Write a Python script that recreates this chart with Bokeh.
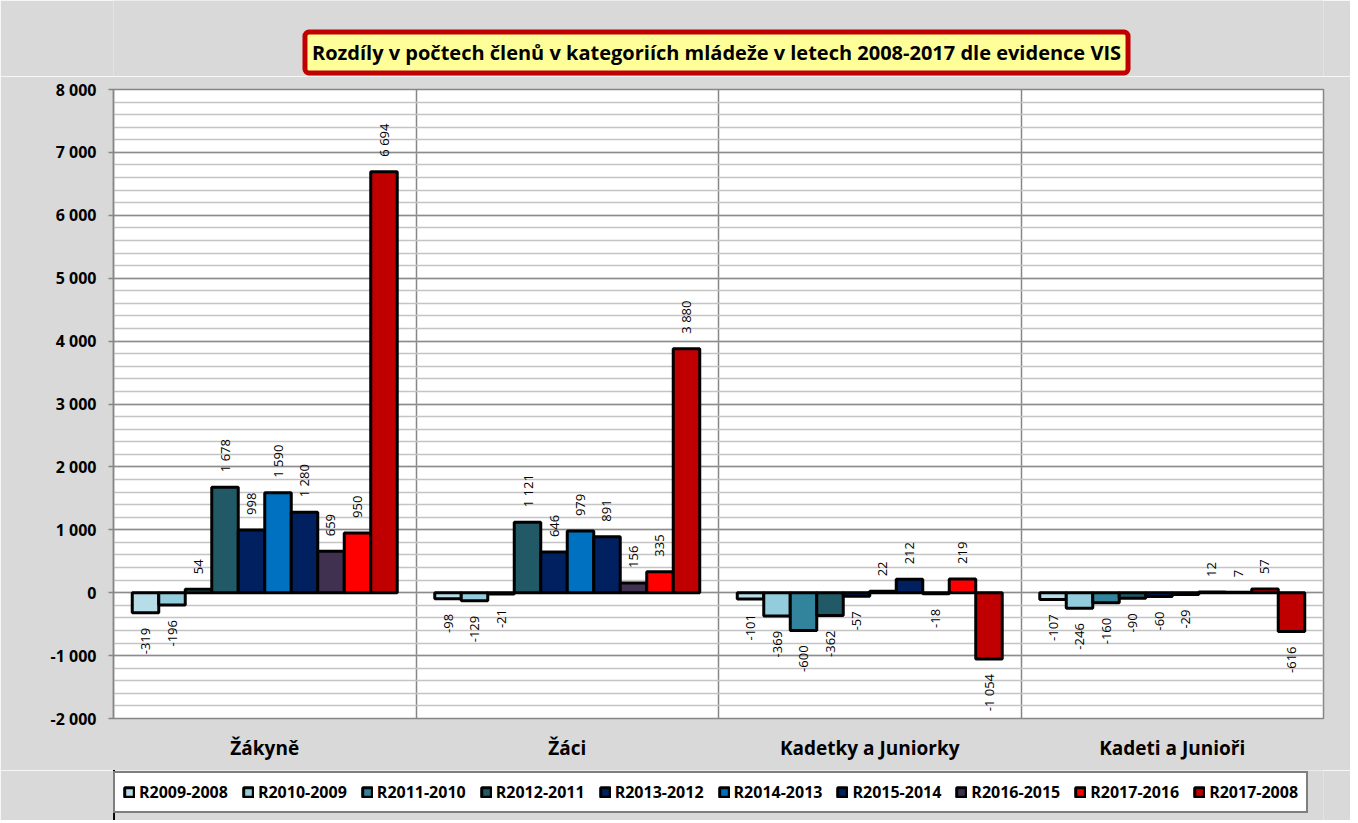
import math
from bokeh.plotting import figure
from bokeh.layouts import column
from bokeh.models import (ColumnDataSource, FixedTicker, Legend, LegendItem, Label,
                          CustomJSTickFormatter)
from bokeh.core.properties import value
from bokeh.embed import file_html
from bokeh.resources import INLINE

# ---------------- data ----------------
title_text = "Rozdíly v počtech členů v kategoriích mládeže v letech 2008-2017 dle evidence VIS"
categories = ["Žákyně", "Žáci", "Kadetky a Juniorky", "Kadeti a Junioři"]
series_names = ["R2009-2008", "R2010-2009", "R2011-2010", "R2012-2011", "R2013-2012",
                "R2014-2013", "R2015-2014", "R2016-2015", "R2017-2016", "R2017-2008"]
r2009_2008 = [-319, -98, -101, -107]
r2010_2009 = [-196, -129, -369, -246]
r2011_2010 = [54, -21, -600, -160]
r2012_2011 = [1678, 1121, -362, -90]
r2013_2012 = [998, 646, -57, -60]
r2014_2013 = [1590, 979, 22, -29]
r2015_2014 = [1280, 891, 212, 12]
r2016_2015 = [659, 156, -18, 7]
r2017_2016 = [950, 335, 219, 57]
r2017_2008 = [6694, 3880, -1054, -616]
series_values = [r2009_2008, r2010_2009, r2011_2010, r2012_2011, r2013_2012,
                 r2014_2013, r2015_2014, r2016_2015, r2017_2016, r2017_2008]
colors = ["#B7DEE8", "#93CDDD", "#31849B", "#215967", "#002060",
          "#0070C0", "#002060", "#403151", "#FF0000", "#C00000"]
y_ticks = list(range(-2000, 8001, 1000))
y_minor = list(range(-2000, 8001, 200))

# ---------------- common ----------------
BW = 0.0876
FONT = "Open Sans"
BG = "#d9d9d9"
W = 1350
LEFT, RIGHT = 113, 27


def blank_fig(height):
    # a strip whose ranges show no data: it only hosts a title box or the legend
    f = figure(width=W, height=height, x_range=(100, 101), y_range=(100, 101),
               output_backend="svg", toolbar_location=None,
               x_axis_type=None, y_axis_type=None,
               min_border_left=LEFT, min_border_right=RIGHT,
               min_border_top=0, min_border_bottom=0,
               border_fill_color=BG, background_fill_color=BG)
    f.outline_line_color = None
    return f


# ---------------- title strip ----------------
ft = blank_fig(76)
ft.add_layout(Label(x=603, y=24, x_units="screen", y_units="screen", text=title_text,
                    text_align="center", text_baseline="middle",
                    text_font=FONT, text_font_style="bold", text_font_size="20px",
                    text_color="black", background_fill_color="#FFFF99",
                    border_line_color="#C00000", border_line_width=5, border_radius=4,
                    padding=7))

# ---------------- main chart ----------------
p = figure(width=W, height=694, x_range=(0, 4), y_range=(-2000, 8000),
           output_backend="svg", toolbar_location=None,
           min_border_left=LEFT, min_border_right=RIGHT, min_border_top=13, min_border_bottom=52,
           border_fill_color=BG, background_fill_color="white")
p.outline_line_color = "#868686"
p.outline_line_width = 1.5

p.yaxis.ticker = FixedTicker(ticks=y_ticks, minor_ticks=y_minor)
p.yaxis.formatter = CustomJSTickFormatter(
    code="return tick.toFixed(0).replace(/\\B(?=(\\d{3})+(?!\\d))/g, ' ');")
p.yaxis.major_label_text_font = FONT
p.yaxis.major_label_text_font_style = "bold"
p.yaxis.major_label_text_font_size = "16px"
p.yaxis.major_label_text_color = "black"
p.yaxis.axis_line_color = "#868686"
p.yaxis.axis_line_width = 1.5
p.yaxis.major_tick_line_color = "#868686"
p.yaxis.major_tick_line_width = 1.5
p.yaxis.major_tick_out = 5
p.yaxis.major_tick_in = 0
p.yaxis.minor_tick_line_color = None
p.yaxis.major_label_standoff = 12

p.ygrid.ticker = FixedTicker(ticks=y_ticks, minor_ticks=y_minor)
p.ygrid.grid_line_color = "#8c8c8c"
p.ygrid.grid_line_width = 1.5
p.ygrid.minor_grid_line_color = "#c4c4c4"
p.ygrid.minor_grid_line_width = 1.5

p.xaxis.ticker = FixedTicker(ticks=[i + 0.5 for i in range(len(categories))])
p.xaxis.major_label_overrides = {i + 0.5: c for i, c in enumerate(categories)}
p.xaxis.major_label_text_font = FONT
p.xaxis.major_label_text_font_style = "bold"
p.xaxis.major_label_text_font_size = "19px"
p.xaxis.major_label_text_color = "black"
p.xaxis.axis_line_color = None
p.xaxis.major_tick_line_color = None
p.xaxis.minor_tick_line_color = None
p.xaxis.major_tick_out = 0
p.xaxis.major_label_standoff = 16

p.xgrid.ticker = FixedTicker(ticks=list(range(1, len(categories))))
p.xgrid.grid_line_color = "#868686"
p.xgrid.grid_line_width = 1.5

sources = []
pos = dict(x=[], y=[], t=[])
neg = dict(x=[], y=[], t=[])
for j, (name, vals, col) in enumerate(zip(series_names, series_values, colors)):
    xs = [g + 0.5 + (j - 4.5) * BW for g in range(len(categories))]
    src = ColumnDataSource(dict(x=xs, top=vals))
    sources.append(src)
    p.vbar(x="x", top="top", bottom=0, width=BW, source=src,
           fill_color=col, line_color="black", line_width=3)
    for x, v in zip(xs, vals):
        d = pos if v >= 0 else neg
        d["x"].append(x)
        d["y"].append(v)
        d["t"].append(f"{v:,}".replace(",", " "))

p.text(x="x", y="y", text="t", source=ColumnDataSource(pos), angle=math.pi / 2,
       text_align="left", text_baseline="middle", y_offset=-15,
       text_font=value(FONT), text_font_size="13px", text_color="black")
p.text(x="x", y="y", text="t", source=ColumnDataSource(neg), angle=math.pi / 2,
       text_align="right", text_baseline="middle", y_offset=15,
       text_font=value(FONT), text_font_size="13px", text_color="black")

# ---------------- legend strip ----------------
fl = blank_fig(50)
items = []
for name, col, src in zip(series_names, colors, sources):
    r = fl.vbar(x="x", top="top", bottom=0, width=BW, source=src,
                fill_color=col, line_color="black", line_width=3)
    items.append(LegendItem(label=name, renderers=[r]))
legend = Legend(items=items, orientation="horizontal", location=(0, 7),
                border_line_color="black", border_line_width=2,
                background_fill_color="white", background_fill_alpha=1,
                label_text_font=FONT, label_text_font_style="bold",
                label_text_font_size="16px", label_text_color="black",
                glyph_width=12, glyph_height=12, label_standoff=4, spacing=14,
                padding=8, margin=0, label_height=20)
fl.add_layout(legend)

layout = column(ft, p, fl, spacing=0)
open("out.html", "w").write(file_html(layout, INLINE))
